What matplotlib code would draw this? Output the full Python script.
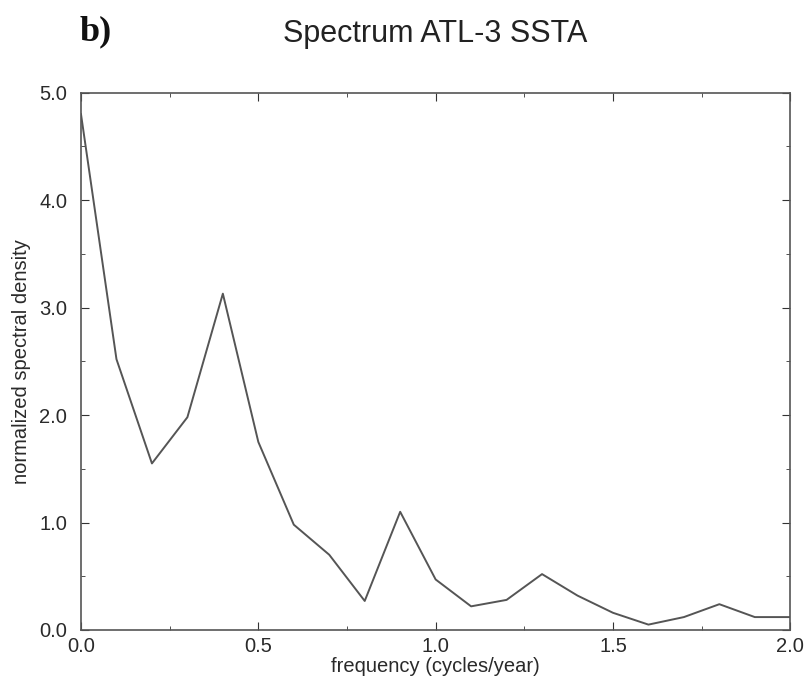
import matplotlib.pyplot as plt
from matplotlib.ticker import MultipleLocator

# spectrum values
freq = [0.0, 0.1, 0.2, 0.3, 0.4, 0.5, 0.6, 0.7, 0.8, 0.9, 1.0,
        1.1, 1.2, 1.3, 1.4, 1.5, 1.6, 1.7, 1.8, 1.9, 2.0]
density = [4.80, 2.52, 1.55, 1.98, 3.13, 1.75, 0.98, 0.70, 0.27, 1.10, 0.47,
           0.22, 0.28, 0.52, 0.32, 0.16, 0.05, 0.12, 0.24, 0.12, 0.12]

plt.rcParams['font.family'] = ['Liberation Sans', 'DejaVu Sans']

fig = plt.figure(figsize=(8.06, 6.87), dpi=100)
ax = fig.add_axes([0.1005, 0.083, 0.880, 0.782])

ax.plot(freq, density, color='#555555', linewidth=1.4)

ax.set_xlim(0, 2.0)
ax.set_ylim(0, 5.0)
ax.xaxis.set_major_locator(MultipleLocator(0.5))
ax.xaxis.set_minor_locator(MultipleLocator(0.25))
ax.yaxis.set_major_locator(MultipleLocator(1.0))
ax.yaxis.set_minor_locator(MultipleLocator(0.5))
ax.xaxis.set_major_formatter(plt.FormatStrFormatter('%.1f'))
ax.yaxis.set_major_formatter(plt.FormatStrFormatter('%.1f'))
ax.tick_params(which='both', direction='in', top=True, right=True,
               labelsize=14.5, colors='#333333', labelcolor='#2a2a2a')
ax.tick_params(which='major', length=6)
ax.tick_params(which='minor', length=3)
ax.tick_params(axis='y', which='major', pad=10)
ax.tick_params(axis='x', which='major', pad=5)
for s in ax.spines.values():
    s.set_color('#555555')
    s.set_linewidth(1.2)

ax.set_xlabel('frequency (cycles/year)', fontsize=14.5, color='#2a2a2a', labelpad=1)
ax.set_ylabel('normalized spectral density', fontsize=14.5, color='#2a2a2a', labelpad=6)

fig.text(0.54, 0.950, 'Spectrum ATL-3 SSTA', ha='center', va='center',
         fontsize=22, color='#222222')
fig.text(0.099, 0.953, 'b)', ha='left', va='center', fontsize=26,
         fontweight='bold', family='Liberation Serif', color='#111111')

fig.savefig('out.png', dpi=100)
